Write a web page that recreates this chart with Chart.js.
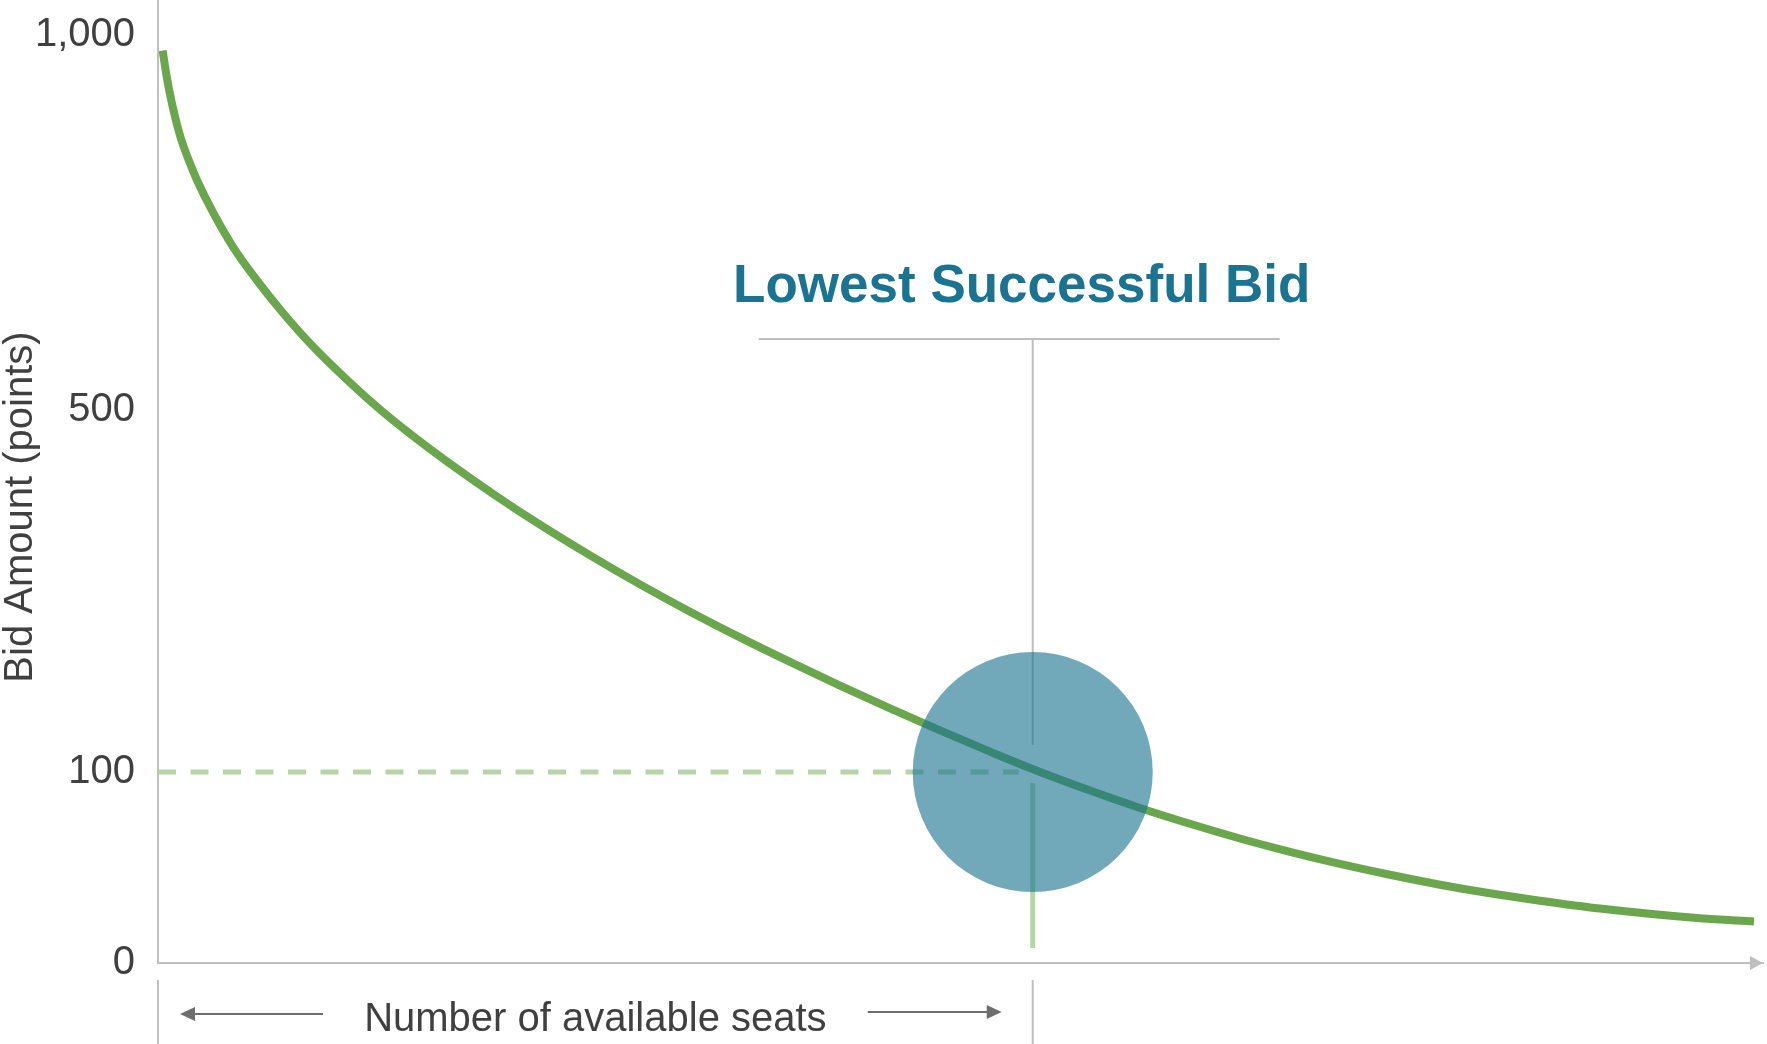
<!DOCTYPE html>
<html>
<head>
<meta charset="utf-8">
<title>Lowest Successful Bid</title>
<script src="https://cdn.jsdelivr.net/npm/chart.js@4.4.1/dist/chart.umd.min.js"></script>
<style>
  html, body { margin: 0; padding: 0; background: #ffffff; }
  #wrap { position: relative; width: 1767px; height: 1044px; }
</style>
</head>
<body>
<div id="wrap"><canvas id="bid-chart"></canvas></div>
<script>
(function() {
  'use strict';

  /* Data */
  var seats = [0.29, 0.52, 0.73, 1.08, 1.43, 2.06, 2.43, 3.43, 4.67, 6.17, 7.79, 9.66,
               11.78, 14.02, 16.14, 18.07, 21.0, 23.8, 26.92, 30.03, 33.15, 36.26,
               39.38, 42.49, 45.61, 48.72, 51.84, 54.52, 58.07, 61.18, 64.3, 67.41,
               70.53, 73.64, 76.76, 79.88, 82.99, 86.11, 89.84, 96.07, 99.44];
  var bidPoints = [979, 947.3, 922.8, 889.2, 861.8, 825.2, 806.3, 763.3, 717.4, 672.6, 629.3, 584.5,
                   540.1, 497.7, 467.7, 442.2, 405.8, 373.2, 339.3, 307.3, 277.1, 248.7,
                   221.6, 195.5, 170.3, 146, 122.5, 103.1, 90.3, 81.2, 72.9, 65.2,
                   58.2, 51.9, 46.2, 41, 36.5, 32.6, 28.5, 23.4, 21.7];
  var lowestSeats = [54.5];
  var lowestBid = [100];
  var yTicks = [0, 100, 500, 1000];

  var GREEN       = '#69a64c';
  var LIGHT_GREEN = '#b5d5a7';
  var TEAL        = '#1a7391';
  var BUBBLE      = 'rgba(26,116,144,0.62)';
  var AXIS        = '#bfbfbf';
  var TEXT        = '#404040';
  var ARROW       = '#6e6e6e';
  var FONT        = "'Liberation Sans', Arial, sans-serif";

  /* The value axis is not linear: each labelled step gets its own stretch */
  var Y_STOPS = [[0, 0], [100, 0.1983], [500, 0.5743], [1000, 0.9637], [1047, 1]];

  function toFrac(v) {
    var i = 0;
    while (i < Y_STOPS.length - 2 && v > Y_STOPS[i + 1][0]) i++;
    var a = Y_STOPS[i], b = Y_STOPS[i + 1];
    return a[1] + (v - a[0]) / (b[0] - a[0]) * (b[1] - a[1]);
  }

  function fromFrac(f) {
    var i = 0;
    while (i < Y_STOPS.length - 2 && f > Y_STOPS[i + 1][1]) i++;
    var a = Y_STOPS[i], b = Y_STOPS[i + 1];
    return a[0] + (f - a[1]) / (b[1] - a[1]) * (b[0] - a[0]);
  }

  class StepScale extends Chart.LinearScale {
    getPixelForValue(value) {
      return value === null ? NaN : this.getPixelForDecimal(toFrac(value));
    }
    getValueForPixel(pixel) {
      return fromFrac(this.getDecimalForPixel(pixel));
    }
  }
  StepScale.id = 'steps';
  StepScale.defaults = Chart.LinearScale.defaults;
  Chart.register(StepScale);

  function line(ctx, x1, y1, x2, y2) {
    ctx.beginPath();
    ctx.moveTo(x1, y1);
    ctx.lineTo(x2, y2);
    ctx.stroke();
  }

  function head(ctx, tipX, tipY, dir, len, half) {
    ctx.beginPath();
    ctx.moveTo(tipX, tipY);
    ctx.lineTo(tipX - dir * len, tipY - half);
    ctx.lineTo(tipX - dir * len, tipY + half);
    ctx.closePath();
    ctx.fill();
  }

  /* ========================================================
   * Guides, labels and arrows around the plot
   * ======================================================== */
  var annotations = {
    id: 'annotations',
    beforeDatasetsDraw: function(chart) {
      var ctx = chart.ctx, xs = chart.scales.x, ys = chart.scales.y;
      var mx = xs.getPixelForValue(lowestSeats[0]);
      var my = ys.getPixelForValue(lowestBid[0]);
      ctx.save();
      ctx.lineCap = 'butt';

      /* dashed line across to the value axis */
      ctx.strokeStyle = LIGHT_GREEN;
      ctx.lineWidth = 5;
      ctx.setLineDash([18, 14.5]);
      line(ctx, xs.left, my, mx - 14, my);
      ctx.setLineDash([]);

      /* drop line down to the seat axis */
      line(ctx, mx, my + 11, mx, ys.bottom - 15);

      /* leader up to the label */
      ctx.strokeStyle = AXIS;
      ctx.lineWidth = 2;
      line(ctx, mx, my - 27, mx, 339);
      line(ctx, mx - 274, 339, mx + 247, 339);
      ctx.restore();
    },
    afterDraw: function(chart) {
      var ctx = chart.ctx, xs = chart.scales.x, ys = chart.scales.y;
      var mx = xs.getPixelForValue(lowestSeats[0]);
      var base = ys.bottom;
      ctx.save();

      ctx.fillStyle = TEAL;
      ctx.font = 'bold 53px ' + FONT;
      ctx.textAlign = 'center';
      ctx.textBaseline = 'alphabetic';
      ctx.fillText('Lowest Successful Bid', mx - 11, 302);

      /* value axis title */
      ctx.save();
      ctx.translate(31.5, 507);
      ctx.rotate(-Math.PI / 2);
      ctx.fillStyle = TEXT;
      ctx.font = '40px ' + FONT;
      ctx.fillText('Bid Amount (points)', 0, 0);
      ctx.restore();

      /* arrow head on the seat axis */
      ctx.fillStyle = AXIS;
      head(ctx, xs.right, base, 1, 13, 7);

      /* bracket under the seat axis */
      ctx.strokeStyle = AXIS;
      ctx.lineWidth = 2;
      line(ctx, xs.left, base + 17, xs.left, chart.height);
      line(ctx, mx, base + 17, mx, chart.height);

      ctx.strokeStyle = ARROW;
      ctx.fillStyle = ARROW;
      line(ctx, xs.left + 165, base + 51, xs.left + 34, base + 51);
      head(ctx, xs.left + 22, base + 51, -1, 15, 7);
      line(ctx, mx - 165, base + 49, mx - 44, base + 49);
      head(ctx, mx - 31, base + 49, 1, 15, 7);

      ctx.fillStyle = TEXT;
      ctx.font = '40px ' + FONT;
      ctx.textAlign = 'center';
      ctx.fillText('Number of available seats', (xs.left + mx) / 2, base + 68);
      ctx.restore();
    }
  };

  var curve = seats.map(function(s, i) { return { x: s, y: bidPoints[i] }; });
  var marker = lowestSeats.map(function(s, i) { return { x: s, y: lowestBid[i] }; });

  new Chart(document.getElementById('bid-chart'), {
    type: 'line',
    data: {
      datasets: [
        {
          label: 'Lowest successful bid',
          data: marker,
          showLine: false,
          pointRadius: 120,
          pointBackgroundColor: BUBBLE,
          pointBorderWidth: 0,
          order: 0
        },
        {
          label: 'Bid curve',
          data: curve,
          borderColor: GREEN,
          borderWidth: 8,
          pointRadius: 0,
          cubicInterpolationMode: 'monotone',
          fill: false,
          order: 1
        }
      ]
    },
    options: {
      responsive: true,
      maintainAspectRatio: false,
      animation: false,
      events: [],
      layout: { autoPadding: false, padding: { top: 0, right: 4, bottom: 0, left: 0 } },
      plugins: {
        legend: { display: false },
        tooltip: { enabled: false }
      },
      scales: {
        x: {
          type: 'linear',
          min: 0,
          max: 100,
          ticks: { display: false },
          grid: { display: false, drawTicks: false },
          border: { display: true, color: AXIS, width: 2 },
          afterFit: function(scale) { scale.height = 81; }
        },
        y: {
          type: 'steps',
          min: 0,
          max: 1047,
          grid: { display: false, drawTicks: false },
          border: { display: true, color: AXIS, width: 2 },
          ticks: {
            color: TEXT,
            padding: 23,
            font: { family: FONT, size: 40 },
            callback: function(v) { return v.toLocaleString('en-US'); }
          },
          afterBuildTicks: function(scale) {
            scale.ticks = yTicks.map(function(v) { return { value: v }; });
          },
          afterFit: function(scale) {
            scale.width = 158;
            scale.paddingTop = 0;
            scale.paddingBottom = 0;
          }
        }
      }
    },
    plugins: [annotations]
  });
})();
</script>
</body>
</html>
